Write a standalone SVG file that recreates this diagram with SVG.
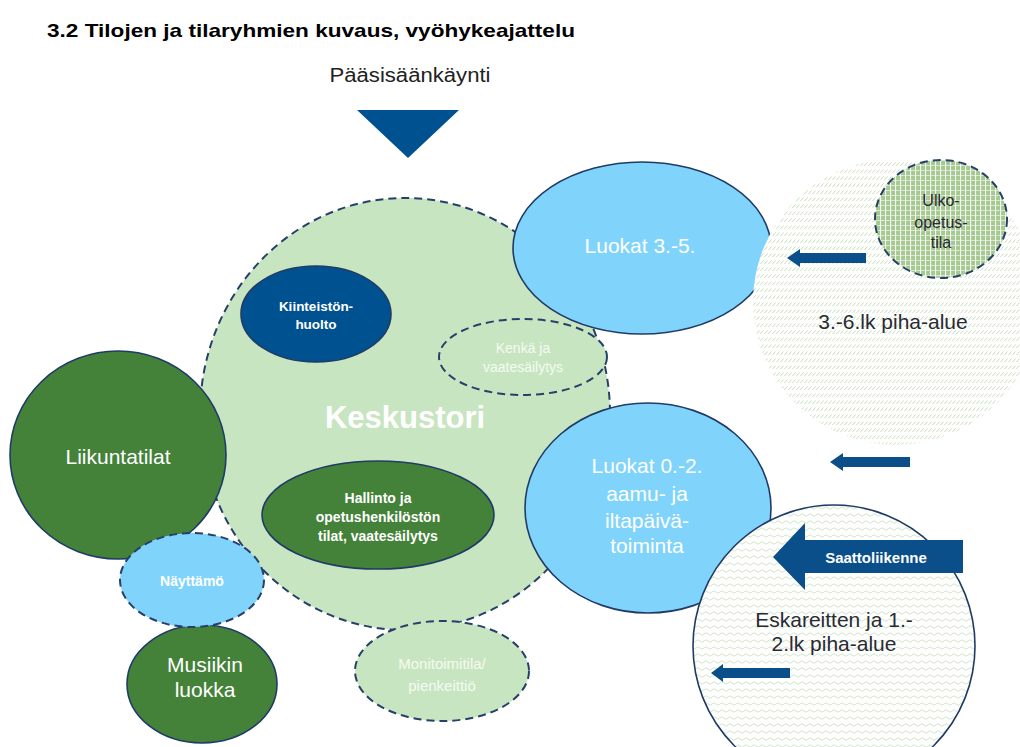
<svg xmlns="http://www.w3.org/2000/svg" width="1020" height="747" viewBox="0 0 1020 747">
<style>
text{font-family:"Liberation Sans",Arial,sans-serif;text-anchor:middle}
.dash{stroke:#26406a;stroke-width:2;stroke-dasharray:8 5}
.solid{stroke:#1f3b66;stroke-width:1.6}
.lg{fill:#c8e5c1}
.dg{fill:#44823a}
.lb{fill:#80d4fc}
.db{fill:#005190}
.w{fill:#ffffff}
.wl{fill:#f4fbf1}
.dk{fill:#2a2a33}
.arr{fill:#0a4e8a}
</style>
<defs>
<pattern id="hatch" width="4" height="7" patternUnits="userSpaceOnUse"><rect width="4" height="7" fill="#ffffff"/><path d="M0.5 5 L3.5 1.5" stroke="#c4e0b5" stroke-width="1"/></pattern>
<pattern id="wave" width="8" height="7" patternUnits="userSpaceOnUse"><rect width="8" height="7" fill="#ffffff"/><path d="M0 4 Q2 1.5 4 4 T8 4" stroke="#d0e7c6" stroke-width="1" fill="none"/></pattern>
<pattern id="grid" width="5" height="5" patternUnits="userSpaceOnUse"><rect width="5" height="5" fill="#a5c991"/><path d="M0 0.5 H5" stroke="#ffffff" stroke-opacity="0.55" stroke-width="1"/><path d="M0.5 0 V5" stroke="#ffffff" stroke-opacity="0.85" stroke-width="1.2"/></pattern>
</defs>
<text x="47" y="37" font-size="19" font-weight="bold" fill="#000" style="text-anchor:start" textLength="528" lengthAdjust="spacingAndGlyphs">3.2 Tilojen ja tilaryhmien kuvaus, vyöhykeajattelu</text>
<text x="410" y="82" font-size="20" fill="#222" textLength="161" lengthAdjust="spacingAndGlyphs">Pääsisäänkäynti</text>
<polygon points="357,110 459,110 408,158" class="db"/>
<g id="keskustori"><ellipse cx="405" cy="414" rx="205" ry="216" class="lg dash"/><text x="405" y="428" font-size="31" font-weight="bold" class="w">Keskustori</text></g>
<g id="kiinteisto"><ellipse cx="316" cy="314" rx="75" ry="48" class="db solid"/><text x="316" y="311" font-size="13.5" font-weight="bold" class="w">Kiinteistön-</text><text x="316" y="329" font-size="13.5" font-weight="bold" class="w">huolto</text></g>
<g id="kenka"><ellipse cx="523" cy="357" rx="84" ry="38" class="lg dash"/><text x="523" y="353" font-size="14" class="wl">Kenkä ja</text><text x="523" y="372" font-size="14" class="wl">vaatesäilytys</text></g>
<g id="hallinto"><ellipse cx="378" cy="515" rx="116" ry="54" class="dg solid"/><text x="378" y="503" font-size="14" font-weight="bold" class="w">Hallinto ja</text><text x="378" y="522" font-size="14" font-weight="bold" class="w">opetushenkilöstön</text><text x="378" y="541" font-size="14" font-weight="bold" class="w">tilat, vaatesäilytys</text></g>
<g id="monitoimi"><ellipse cx="442" cy="671" rx="87" ry="50" class="lg dash"/><text x="442" y="669" font-size="15" class="wl">Monitoimitila/</text><text x="442" y="691" font-size="15" class="wl">pienkeittiö</text></g>
<g id="liikunta"><ellipse cx="118" cy="455" rx="108" ry="104" class="dg solid"/><text x="118" y="464" font-size="21" class="w">Liikuntatilat</text></g>
<g id="musiikki"><ellipse cx="202" cy="684" rx="75" ry="59" class="dg solid"/><text x="205" y="672" font-size="21" class="w">Musiikin</text><text x="205" y="697" font-size="21" class="w">luokka</text></g>
<g id="nayttamo"><ellipse cx="192" cy="580" rx="72" ry="47" class="lb dash"/><text x="192" y="586" font-size="14" font-weight="bold" class="w">Näyttämö</text></g>
<g id="luokat35"><ellipse cx="642" cy="248" rx="129" ry="86" class="lb solid"/><text x="640" y="253" font-size="21" class="w">Luokat 3.-5.</text></g>
<g id="piha36"><circle cx="896" cy="302" r="143" fill="url(#hatch)"/><text x="893" y="329" font-size="21" class="dk">3.-6.lk piha-alue</text></g>
<g id="ulko"><ellipse cx="941" cy="219" rx="66" ry="59" fill="url(#grid)" class="dash"/><text x="941" y="206" font-size="16" class="dk">Ulko-</text><text x="941" y="228" font-size="16" class="dk">opetus-</text><text x="941" y="248" font-size="16" class="dk">tila</text></g>
<g id="luokat02"><ellipse cx="648" cy="508" rx="123" ry="105" class="lb solid"/><text x="647" y="473" font-size="21" class="w">Luokat 0.-2.</text><text x="647" y="501" font-size="21" class="w">aamu- ja</text><text x="647" y="528" font-size="21" class="w">iltapäivä-</text><text x="647" y="553" font-size="21" class="w">toiminta</text></g>
<g id="piha02"><circle cx="834" cy="646" r="141" fill="url(#wave)" class="solid"/><text x="834" y="627" font-size="21" class="dk">Eskareitten ja 1.-</text><text x="834" y="651" font-size="21" class="dk">2.lk piha-alue</text></g>
<g id="connectors">
<polygon class="arr" points="787,258 800,249 800,253 866,253 866,263 800,263 800,267"/>
<polygon class="arr" points="830,462 843,453 843,457 910,457 910,467 843,467 843,471"/>
<polygon class="arr" points="711,673 723,664 723,668 790,668 790,678 723,678 723,682"/>
<polygon class="arr" points="773,557 805,523 805,540 963,540 963,573 805,573 805,590"/>
<text x="876" y="563" font-size="15" font-weight="bold" class="w">Saattoliikenne</text>
</g>
</svg>
